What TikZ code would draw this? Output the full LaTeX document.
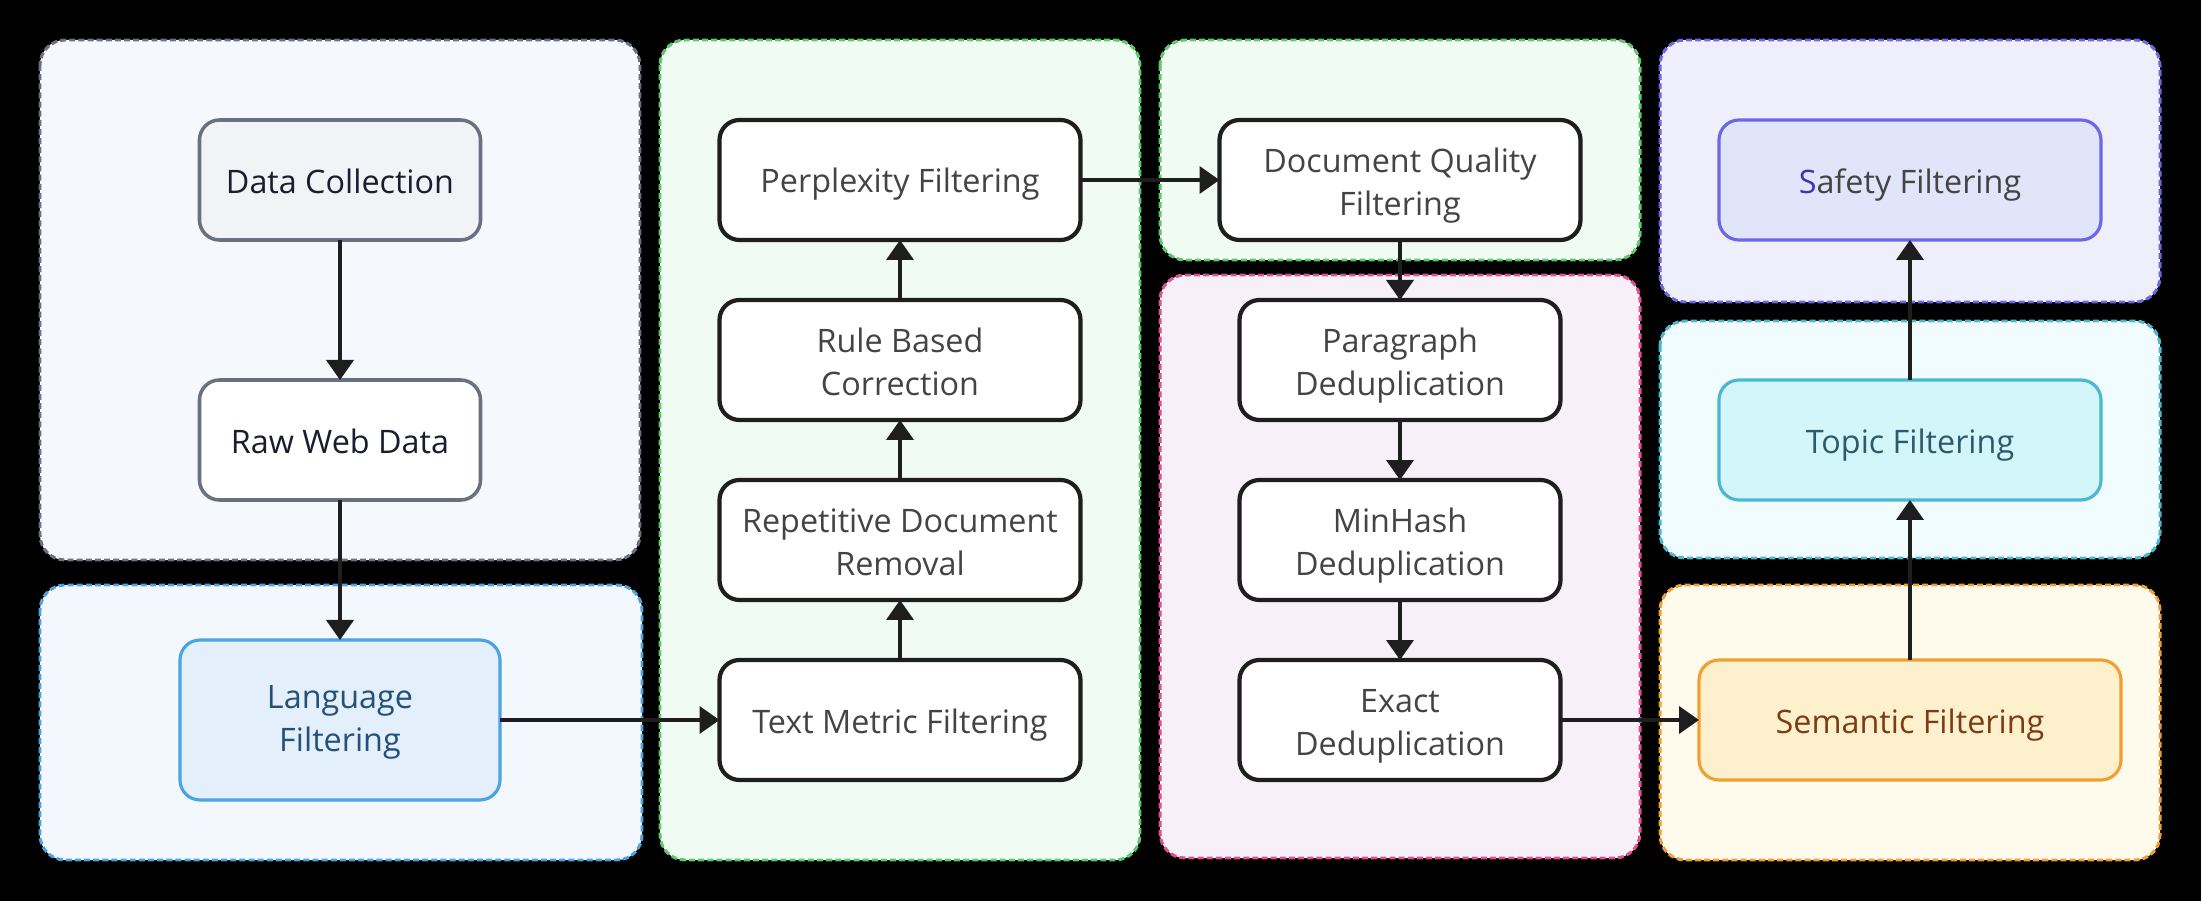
\documentclass[tikz,border=0pt]{standalone}
\usepackage{fontspec}
\setmainfont{Open Sans}
\usepackage{tikz}
\usetikzlibrary{arrows.meta, positioning}

\definecolor{ink}{HTML}{1E1E1E}
\definecolor{txt}{HTML}{444444}
\definecolor{slate}{HTML}{687082}
\definecolor{navy}{HTML}{1A1D2E}
\definecolor{srcfill}{HTML}{F1F3F6}
\definecolor{srczone}{HTML}{F5F8FC}
\definecolor{langline}{HTML}{4CA3E2}
\definecolor{langfill}{HTML}{E3F0FB}
\definecolor{langzone}{HTML}{F2F8FD}
\definecolor{langtxt}{HTML}{24507A}
\definecolor{grnline}{HTML}{5CC96B}
\definecolor{grnzone}{HTML}{F0FCF3}
\definecolor{pinkline}{HTML}{E0508F}
\definecolor{pinkzone}{HTML}{F8F0F8}
\definecolor{purline}{HTML}{6B67E8}
\definecolor{purzone}{HTML}{EFEFFC}
\definecolor{safefill}{HTML}{E1E5FA}
\definecolor{safeS}{HTML}{3B35B5}
\definecolor{cyanline}{HTML}{4AB8D0}
\definecolor{cyanzone}{HTML}{F0FCFE}
\definecolor{topicfill}{HTML}{D3F6FB}
\definecolor{topictxt}{HTML}{2D5B6B}
\definecolor{orgline}{HTML}{F0A030}
\definecolor{orgzone}{HTML}{FFFBEC}
\definecolor{semfill}{HTML}{FCF1CC}
\definecolor{semtxt}{HTML}{7D3B16}

\tikzset{
  stage/.style={rectangle, draw=ink, line width=1.2pt, rounded corners=0.2cm,
                fill=white, text=txt, align=center, inner sep=0pt, outer sep=0pt,
                minimum width=3.61cm, minimum height=1.2cm,
                font=\fontsize{9.2}{12.2}\selectfont,
                text height=9.6pt, text depth=2.2pt},
  twoline/.style={text height=22.4pt, text depth=2.2pt},
  src/.style={stage, draw=slate, line width=1pt, text=navy, minimum width=2.81cm},
  lang/.style={stage, text height=20.2pt, draw=langline, line width=0.9pt,
               fill=langfill, text=langtxt, minimum width=3.2cm, minimum height=1.6cm},
  dedup/.style={stage, twoline, minimum width=3.21cm},
  safe/.style={stage, draw=purline, line width=0.9pt, fill=safefill, minimum width=3.82cm},
  topic/.style={stage, draw=cyanline, line width=0.9pt, fill=topicfill, text=topictxt,
                minimum width=3.82cm},
  sem/.style={stage, draw=orgline, line width=0.9pt, fill=semfill, text=semtxt,
              minimum width=4.22cm},
  zone/.style={draw=#1, line width=0.85pt, dash pattern=on 1.7pt off 0.9pt,
               rounded corners=0.25cm},
  arr/.style={-{Triangle[width=0.27cm, length=0.2cm]}, line width=1.1pt, draw=ink},
}

\begin{document}
\begin{tikzpicture}[node distance=0.6cm]
  \useasboundingbox (0,0) rectangle (22.01,-9.01);
  \fill[black] (0,0) rectangle (22.01,-9.01);

  % stage groups
  \draw[zone=slate, fill=srczone]      (0.40,-0.40) rectangle (6.40,-5.60);
  \draw[zone=langline, fill=langzone]  (0.40,-5.85) rectangle (6.42,-8.60);
  \draw[zone=grnline, fill=grnzone]    (6.60,-0.40) rectangle (11.40,-8.60);
  \draw[zone=grnline, fill=grnzone]    (11.60,-0.40) rectangle (16.40,-2.60);
  \draw[zone=pinkline, fill=pinkzone]  (11.60,-2.75) rectangle (16.40,-8.58);
  \draw[zone=purline, fill=purzone]    (16.60,-0.40) rectangle (21.60,-3.02);
  \draw[zone=cyanline, fill=cyanzone]  (16.60,-3.21) rectangle (21.60,-5.58);
  \draw[zone=orgline, fill=orgzone]    (16.60,-5.85) rectangle (21.60,-8.60);

  \node[src, fill=srcfill] (collect) at (3.40,-1.80) {Data Collection};
  \node[src, below=1.4cm of collect] (raw) {Raw Web Data};
  \node[lang, below=1.4cm of raw] (langf) {Language\\Filtering};

  \node[stage] (metric) at (9.00,-7.20) {Text Metric Filtering};
  \node[stage, twoline, above=of metric] (repet) {Repetitive Document\\Removal};
  \node[stage, twoline, above=of repet] (rule) {Rule Based\\Correction};
  \node[stage, above=of rule] (perp) {Perplexity Filtering};

  \node[stage, twoline] (quality) at (14.00,-1.80) {Document Quality\\Filtering};
  \node[dedup, below=of quality] (para) {Paragraph\\Deduplication};
  \node[dedup, below=of para] (minhash) {MinHash\\Deduplication};
  \node[dedup, below=of minhash] (exact) {Exact\\Deduplication};

  \node[sem] (semantic) at (19.10,-7.20) {Semantic Filtering};
  \node[topic, above=1.6cm of semantic] (topicf) {Topic Filtering};
  \node[safe, above=1.4cm of topicf] (safety) {{\color{safeS}S}afety Filtering};

  \draw[arr] (collect) -- (raw);
  \draw[arr] (raw) -- (langf);
  \draw[arr] (langf) -- (metric);
  \foreach \a/\b in {metric/repet, repet/rule, rule/perp}
    \draw[arr] (\a) -- (\b);
  \draw[arr] (perp) -- (quality);
  \foreach \a/\b in {quality/para, para/minhash, minhash/exact}
    \draw[arr] (\a) -- (\b);
  \draw[arr] (exact) -- (semantic);
  \draw[arr] (semantic) -- (topicf);
  \draw[arr] (topicf) -- (safety);
\end{tikzpicture}
\end{document}
